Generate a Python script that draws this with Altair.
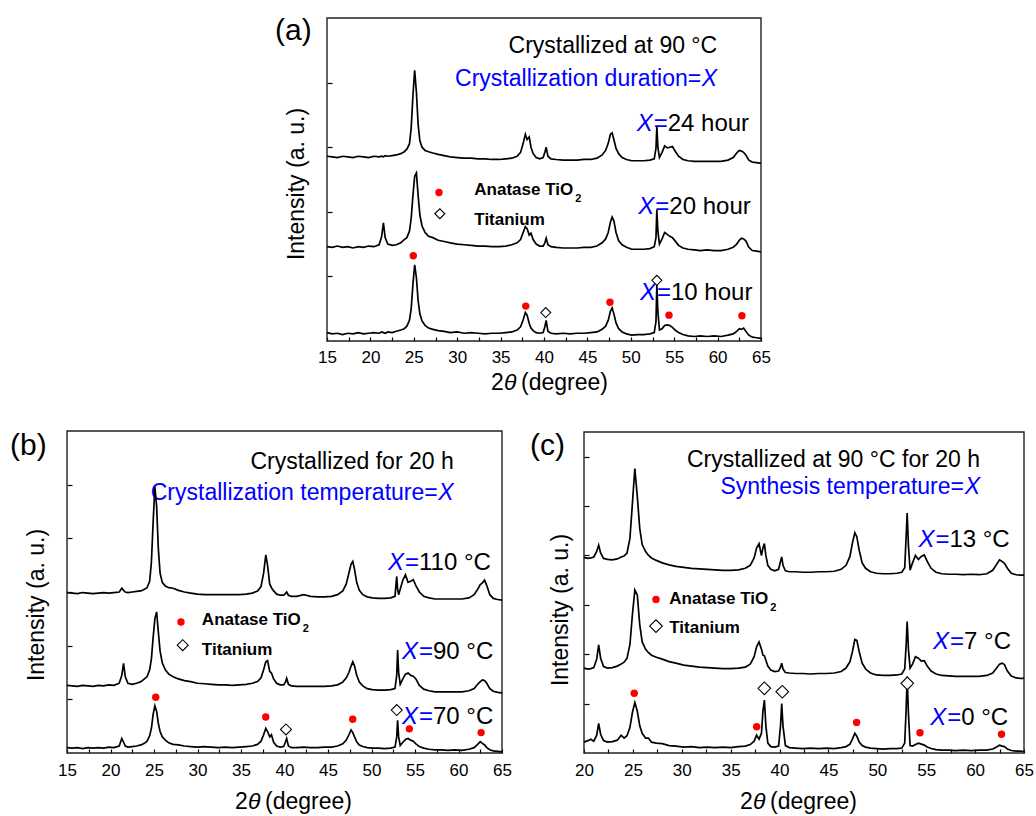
import altair as alt
import pandas as pd

FONT = "Liberation Sans"
BLUE = "#0000ff"
RED = "#ff0000"

# ---------------- shared 2-theta sampling for panels (a) and (b) ----------------
x_ab = [15.0, 15.6, 16.2, 16.8, 17.4, 18.0, 18.6, 19.2, 19.8, 20.4,
        21.0, 21.3, 21.5, 21.7, 22.0, 22.5, 23.0, 23.5, 23.9, 24.2,
        24.5, 24.7, 24.9, 25.1, 25.3, 25.5, 25.7, 25.95, 26.3, 26.7,
        27.2, 27.8, 28.5, 29.2, 30.0, 30.8, 31.6, 32.4, 33.2, 34.0,
        34.8, 35.6, 36.3, 36.9, 37.3, 37.6, 37.85, 38.05, 38.3, 38.5,
        38.75, 39.1, 39.5, 39.9, 40.1, 40.25, 40.45, 40.8, 41.4, 42.2,
        43.0, 43.8, 44.6, 45.4, 46.1, 46.7, 47.1, 47.4, 47.65, 47.85,
        48.05, 48.3, 48.6, 49.0, 49.5, 50.1, 50.8, 51.5, 52.2, 52.7,
        52.9, 53.0, 53.12, 53.3, 53.6, 53.9, 54.2, 54.5, 54.8, 55.1,
        55.5, 56.0, 56.6, 57.3, 58.0, 58.8, 59.6, 60.4, 61.2, 61.8,
        62.2, 62.5, 62.75, 63.0, 63.25, 63.6, 64.0, 64.5, 65.0]

# panel (a): crystallization duration
a_10h = [0.13, 0.11, 0.12, 0.10, 0.12, 0.11, 0.13, 0.11, 0.12, 0.13,
         0.12, 0.14, 0.13, 0.12, 0.14, 0.13, 0.15, 0.17, 0.19, 0.23,
         0.32, 0.50, 0.88, 1.18, 0.98, 0.62, 0.42, 0.31, 0.24, 0.20,
         0.18, 0.16, 0.15, 0.13, 0.14, 0.12, 0.13, 0.12, 0.11, 0.12,
         0.12, 0.13, 0.14, 0.17, 0.22, 0.33, 0.44, 0.40, 0.27, 0.20,
         0.16, 0.13, 0.12, 0.13, 0.22, 0.32, 0.15, 0.12, 0.11, 0.12,
         0.11, 0.12, 0.12, 0.13, 0.14, 0.18, 0.23, 0.32, 0.46, 0.51,
         0.42, 0.28, 0.19, 0.14, 0.11, 0.09, 0.10, 0.10, 0.11, 0.13,
         0.30, 0.87, 0.45, 0.17, 0.19, 0.24, 0.25, 0.24, 0.21, 0.17,
         0.13, 0.10, 0.08, 0.07, 0.08, 0.07, 0.08, 0.07, 0.09, 0.11,
         0.15, 0.19, 0.18, 0.20, 0.15, 0.09, 0.06, 0.05, 0.04]
a_20h = [1.46, 1.45, 1.47, 1.45, 1.46, 1.44, 1.46, 1.45, 1.47, 1.46,
         1.49, 1.62, 1.83, 1.60, 1.50, 1.48, 1.49, 1.52, 1.57, 1.60,
         1.70, 1.90, 2.25, 2.55, 2.60, 2.25, 1.95, 1.78, 1.68, 1.62,
         1.60, 1.56, 1.54, 1.52, 1.50, 1.49, 1.48, 1.47, 1.47, 1.46,
         1.46, 1.47, 1.49, 1.52, 1.57, 1.68, 1.77, 1.74, 1.64, 1.67,
         1.57, 1.50, 1.47, 1.47, 1.52, 1.59, 1.49, 1.46, 1.45, 1.44,
         1.44, 1.44, 1.45, 1.45, 1.47, 1.52, 1.58, 1.68, 1.84, 1.92,
         1.86, 1.68, 1.55, 1.49, 1.45, 1.42, 1.42, 1.42, 1.43, 1.46,
         1.60, 2.03, 1.70, 1.50, 1.58, 1.68, 1.65, 1.62, 1.60, 1.55,
         1.48, 1.44, 1.42, 1.41, 1.40, 1.41, 1.40, 1.40, 1.42, 1.45,
         1.50, 1.56, 1.59, 1.58, 1.55, 1.45, 1.40, 1.39, 1.38]
a_24h = [2.86, 2.85, 2.84, 2.86, 2.85, 2.84, 2.86, 2.85, 2.84, 2.86,
         2.85, 2.86, 2.85, 2.87, 2.86, 2.87, 2.88, 2.90, 2.93, 2.97,
         3.05, 3.30, 3.80, 4.19, 3.85, 3.35, 3.10, 3.00, 2.95, 2.93,
         2.91, 2.89, 2.87, 2.85, 2.84, 2.83, 2.83, 2.82, 2.82, 2.81,
         2.81, 2.82, 2.83, 2.86, 2.92, 3.06, 3.20, 3.12, 3.16, 3.00,
         2.90, 2.84, 2.82, 2.84, 2.92, 3.00, 2.86, 2.82, 2.81, 2.80,
         2.80, 2.80, 2.81, 2.81, 2.83, 2.88, 2.95, 3.06, 3.20, 3.22,
         3.12, 2.98, 2.90, 2.84, 2.81, 2.79, 2.79, 2.79, 2.80, 2.82,
         2.98, 3.32, 3.00, 2.84, 2.92, 3.02, 2.99, 3.00, 3.01, 2.94,
         2.86, 2.81, 2.79, 2.78, 2.78, 2.78, 2.78, 2.78, 2.80, 2.84,
         2.91, 2.95, 2.94, 2.92, 2.88, 2.80, 2.77, 2.76, 2.75]

# panel (b): crystallization temperature
b_70 = [0.10, 0.09, 0.10, 0.08, 0.10, 0.09, 0.10, 0.09, 0.11, 0.10,
        0.13, 0.27, 0.20, 0.13, 0.11, 0.12, 0.13, 0.15, 0.18, 0.22,
        0.32, 0.46, 0.72, 0.88, 0.78, 0.55, 0.40, 0.30, 0.24, 0.19,
        0.16, 0.15, 0.13, 0.12, 0.11, 0.12, 0.11, 0.10, 0.11, 0.10,
        0.11, 0.12, 0.13, 0.16, 0.22, 0.34, 0.46, 0.40, 0.30, 0.34,
        0.20, 0.13, 0.11, 0.12, 0.20, 0.27, 0.13, 0.10, 0.10, 0.11,
        0.10, 0.10, 0.11, 0.11, 0.13, 0.17, 0.24, 0.34, 0.43, 0.38,
        0.30, 0.21, 0.15, 0.12, 0.10, 0.09, 0.09, 0.08, 0.09, 0.11,
        0.30, 0.61, 0.30, 0.14, 0.20, 0.25, 0.27, 0.24, 0.22, 0.17,
        0.12, 0.09, 0.07, 0.06, 0.06, 0.05, 0.06, 0.05, 0.07, 0.10,
        0.16, 0.21, 0.18, 0.15, 0.10, 0.06, 0.04, 0.03, 0.02]
b_90 = [1.26, 1.25, 1.24, 1.26, 1.25, 1.24, 1.26, 1.25, 1.27, 1.26,
        1.30, 1.45, 1.67, 1.42, 1.30, 1.28, 1.30, 1.33, 1.38, 1.42,
        1.55, 1.75, 2.15, 2.50, 2.63, 2.25, 1.90, 1.68, 1.55, 1.47,
        1.42, 1.38, 1.35, 1.33, 1.30, 1.29, 1.28, 1.27, 1.27, 1.26,
        1.27, 1.28, 1.30, 1.33, 1.40, 1.55, 1.70, 1.72, 1.52, 1.49,
        1.38, 1.30, 1.27, 1.27, 1.32, 1.39, 1.28, 1.25, 1.24, 1.24,
        1.24, 1.24, 1.24, 1.25, 1.27, 1.32, 1.40, 1.50, 1.62, 1.70,
        1.62, 1.45, 1.32, 1.25, 1.20, 1.18, 1.17, 1.17, 1.18, 1.20,
        1.45, 1.92, 1.50, 1.28, 1.38, 1.47, 1.49, 1.45, 1.43, 1.38,
        1.26, 1.19, 1.16, 1.14, 1.14, 1.14, 1.14, 1.14, 1.16, 1.20,
        1.28, 1.33, 1.36, 1.35, 1.30, 1.20, 1.15, 1.13, 1.12]
b_110 = [2.99, 2.98, 2.97, 2.99, 2.98, 2.97, 2.98, 2.99, 2.98, 2.99,
         3.00, 3.07, 3.03, 3.00, 2.99, 3.00, 3.01, 3.02, 3.05, 3.08,
         3.20, 3.55, 4.30, 4.96, 4.60, 3.80, 3.35, 3.18, 3.11, 3.08,
         3.07, 3.03, 3.00, 2.98, 2.96, 2.95, 2.95, 2.95, 2.95, 2.95,
         2.95, 2.96, 2.98, 3.02, 3.10, 3.35, 3.69, 3.50, 3.15, 3.08,
         3.02, 2.96, 2.94, 2.94, 2.97, 3.00, 2.94, 2.92, 2.92, 2.95,
         2.92, 2.91, 2.91, 2.92, 2.95, 3.02, 3.15, 3.35, 3.52, 3.57,
         3.42, 3.18, 3.03, 2.95, 2.91, 2.89, 2.88, 2.88, 2.89, 2.92,
         3.29, 3.05, 2.95, 3.05, 3.22, 3.32, 3.18, 3.20, 3.23, 3.12,
         3.00, 2.92, 2.89, 2.87, 2.87, 2.87, 2.87, 2.87, 2.89, 2.95,
         3.05, 3.14, 3.17, 3.22, 3.12, 2.95, 2.88, 2.86, 2.85]

# ---------------- panel (c): synthesis temperature ----------------
x_c = [20.0, 20.4, 20.7, 21.0, 21.3, 21.5, 21.7, 22.0, 22.4, 22.9,
       23.4, 23.8, 24.1, 24.4, 24.7, 24.95, 25.2, 25.45, 25.7, 25.95,
       26.3, 26.6, 26.9, 27.4, 28.0, 28.7, 29.4, 30.2, 31.0, 31.8,
       32.6, 33.4, 34.2, 35.0, 35.8, 36.5, 37.0, 37.4, 37.65, 37.9,
       38.15, 38.3, 38.45, 38.6, 38.8, 39.1, 39.5, 39.9, 40.1, 40.22,
       40.35, 40.6, 41.0, 41.6, 42.4, 43.2, 44.0, 44.8, 45.6, 46.3,
       46.8, 47.2, 47.45, 47.7, 47.9, 48.15, 48.45, 48.8, 49.3, 49.9,
       50.6, 51.3, 52.0, 52.5, 52.8, 52.95, 53.05, 53.18, 53.35, 53.6,
       53.9, 54.2, 54.5, 54.8, 55.1, 55.5, 56.0, 56.6, 57.3, 58.0,
       58.8, 59.6, 60.4, 61.2, 61.8, 62.2, 62.5, 62.75, 63.0, 63.3,
       63.7, 64.2, 64.6, 65.0]
c_0 = [0.22, 0.25, 0.28, 0.24, 0.36, 0.60, 0.38, 0.25, 0.22, 0.23,
       0.26, 0.36, 0.30, 0.35, 0.52, 0.82, 1.02, 0.85, 0.55, 0.40,
       0.30, 0.30, 0.22, 0.20, 0.19, 0.15, 0.14, 0.12, 0.13, 0.11,
       0.12, 0.11, 0.12, 0.11, 0.13, 0.14, 0.17, 0.24, 0.36, 0.28,
       0.40, 0.85, 1.07, 0.55, 0.20, 0.13, 0.12, 0.14, 0.55, 1.00,
       0.55, 0.15, 0.11, 0.10, 0.09, 0.10, 0.09, 0.10, 0.09, 0.11,
       0.13, 0.18, 0.28, 0.40, 0.34, 0.22, 0.15, 0.12, 0.10, 0.09,
       0.08, 0.09, 0.09, 0.10, 0.20, 0.90, 1.55, 0.80, 0.15, 0.14,
       0.17, 0.20, 0.18, 0.16, 0.12, 0.09, 0.07, 0.06, 0.06, 0.05,
       0.06, 0.05, 0.06, 0.06, 0.08, 0.12, 0.16, 0.14, 0.13, 0.08,
       0.05, 0.04, 0.04, 0.03]
c_7 = [1.72, 1.70, 1.71, 1.73, 1.90, 2.19, 1.92, 1.75, 1.72, 1.73,
       1.76, 1.80, 1.84, 1.92, 2.20, 2.80, 3.30, 3.20, 2.60, 2.25,
       2.10, 2.03, 1.98, 1.94, 1.90, 1.85, 1.82, 1.78, 1.76, 1.74,
       1.73, 1.72, 1.71, 1.71, 1.72, 1.74, 1.80, 1.95, 2.15, 2.25,
       2.10, 1.98, 1.97, 1.88, 1.76, 1.68, 1.65, 1.66, 1.74, 1.82,
       1.70, 1.63, 1.62, 1.61, 1.61, 1.60, 1.61, 1.61, 1.62, 1.65,
       1.72, 1.85, 2.05, 2.30, 2.28, 2.05, 1.82, 1.70, 1.62, 1.58,
       1.57, 1.57, 1.58, 1.60, 1.70, 2.20, 2.66, 2.10, 1.72, 1.80,
       1.95, 1.92, 1.86, 1.87, 1.76, 1.66, 1.60, 1.57, 1.56, 1.55,
       1.55, 1.55, 1.55, 1.57, 1.62, 1.72, 1.80, 1.82, 1.79, 1.66,
       1.56, 1.52, 1.51, 1.51]
c_13 = [3.96, 3.94, 3.95, 3.97, 4.08, 4.21, 4.05, 3.94, 3.92, 3.91,
        3.93, 3.97, 3.99, 4.05, 4.35, 5.05, 5.76, 5.20, 4.55, 4.22,
        4.08, 4.00, 3.95, 3.90, 3.85, 3.81, 3.78, 3.76, 3.74, 3.73,
        3.72, 3.71, 3.70, 3.70, 3.71, 3.74, 3.80, 3.95, 4.15, 4.24,
        4.00, 4.15, 4.24, 4.00, 3.80, 3.72, 3.69, 3.72, 3.88, 3.97,
        3.80, 3.69, 3.67, 3.67, 3.66, 3.66, 3.67, 3.67, 3.68, 3.72,
        3.80, 3.98, 4.25, 4.46, 4.38, 4.10, 3.85, 3.74, 3.67, 3.64,
        3.63, 3.63, 3.64, 3.66, 3.75, 4.40, 4.86, 4.20, 3.70, 3.85,
        4.00, 3.92, 3.98, 4.01, 3.88, 3.74, 3.66, 3.63, 3.62, 3.62,
        3.61, 3.62, 3.61, 3.63, 3.70, 3.82, 3.91, 3.88, 3.84, 3.74,
        3.64, 3.61, 3.60, 3.60]

# ---------------- phase markers ----------------
a_anatase_x = [24.94, 37.9, 47.6, 54.4, 62.8]
a_anatase_y = [1.32, 0.54, 0.60, 0.40, 0.39]
a_ti_x = [40.2, 53.0]
a_ti_y = [0.44, 0.94]
b_anatase_x = [25.2, 37.84, 47.84, 54.35, 62.6]
b_anatase_y = [1.04, 0.67, 0.63, 0.45, 0.38]
b_ti_x = [40.17, 52.9]
b_ti_y = [0.44, 0.80]
c_anatase_x = [25.14, 37.66, 47.88, 54.36, 62.7]
c_anatase_y = [1.21, 0.53, 0.62, 0.41, 0.38]
c_ti_x = [38.44, 40.28, 53.06]
c_ti_y = [1.31, 1.24, 1.41]

# ---------------- texts ----------------
ticks_ab = [15, 17.5, 20, 22.5, 25, 27.5, 30, 32.5, 35, 37.5, 40, 42.5,
            45, 47.5, 50, 52.5, 55, 57.5, 60, 62.5, 65]
ticks_c = [20, 22.5, 25, 27.5, 30, 32.5, 35, 37.5, 40, 42.5,
           45, 47.5, 50, 52.5, 55, 57.5, 60, 62.5, 65]
legend_texts = ["Anatase TiO", "2", "Titanium"]
ytitle = "Intensity (a. u.)"
xtitle_parts = ["2", "\u03b8", "(degree)"]

a_title = ["Crystallized at 90 \u00b0C", "Crystallization duration="]
a_labels = ["24 hour", "20 hour", "10 hour"]
b_title = ["Crystallized for 20 h", "Crystallization temperature="]
b_labels = ["110 \u00b0C", "90 \u00b0C", "70 \u00b0C"]
c_title = ["Crystallized at 90 \u00b0C for 20 h", "Synthesis temperature="]
c_labels = ["13 \u00b0C", "7 \u00b0C", "0 \u00b0C"]

VIEW_W, VIEW_H = 1036, 816


def make_panel(p):
    (px0, px1), (py0, py1) = p["xpix"], p["ypix"]
    xs = alt.Scale(domain=p["xdom"], range=[px0, px1], nice=False, zero=False)
    ys = alt.Scale(domain=p["ydom"], range=[py1, py0], nice=False, zero=False)
    xaxis = alt.Axis(orient="bottom", offset=py1 - 4 - VIEW_H, values=p["xticks"],
                     labelExpr="datum.value % 5 === 0 ? datum.label : ''",
                     tickSize=4, domain=False, grid=False,
                     labelFlush=False, labelOverlap=False,
                     labelPadding=p["lpad"], labelFontSize=17, labelFont=FONT,
                     labelColor="black", tickColor="black", tickWidth=1.2, title=None)
    yaxis = alt.Axis(orient="left", offset=-(px0 + 5), values=p["yticks"], labels=False,
                     tickSize=5, domain=False, grid=False, tickColor="black",
                     tickWidth=1.2, title=None)

    def X():
        return alt.X("x:Q", scale=xs, axis=xaxis)

    def Y():
        return alt.Y("y:Q", scale=ys, axis=yaxis)

    def dtext(xv, yv, txt, size, color="black", align="left", dx=0, dy=0,
              style="normal", weight="normal"):
        d = pd.DataFrame({"x": [xv], "y": [yv], "t": [txt]})
        return alt.Chart(d).mark_text(
            font=FONT, fontSize=size, color=color, align=align, baseline="middle",
            dx=dx, dy=dy, fontStyle=style, fontWeight=weight
        ).encode(x=X(), y=Y(), text="t:N")

    def ptext(px, py, txt, size, style="normal", angle=0, align="left"):
        d = pd.DataFrame({"t": [txt]})
        return alt.Chart(d).mark_text(
            font=FONT, fontSize=size, color="black", align=align, baseline="middle",
            fontStyle=style, angle=angle
        ).encode(x=alt.value(px), y=alt.value(py), text="t:N")

    def pts(xl, yl, shape, size, fill, stroke, sw):
        d = pd.DataFrame({"x": xl, "y": yl})
        return alt.Chart(d).mark_point(
            shape=shape, size=size, filled=True, fill=fill, stroke=stroke,
            strokeWidth=sw, opacity=1
        ).encode(x=X(), y=Y())

    rows = []
    for name, yl in p["series"]:
        for xv, yv in zip(p["x"], yl):
            rows.append({"x": xv, "y": yv, "s": name})
    df = pd.DataFrame(rows)

    layers = []
    # frame of the plot area (domain corners through the scales)
    fr = pd.DataFrame({"x": [p["xdom"][0]], "x2": [p["xdom"][1]],
                       "y": [p["ydom"][0]], "y2": [p["ydom"][1]]})
    layers.append(alt.Chart(fr).mark_rect(fill="transparent", stroke="#222222",
                                          strokeWidth=1.4).encode(
        x=X(), x2="x2:Q", y=Y(), y2="y2:Q"))

    # annotation texts
    t1, t2 = p["title"]
    layers.append(dtext(p["title_x"], p["title_y"][0], t1, 23, align="right"))
    layers.append(dtext(p["title_x"], p["title_y"][1], "X", 23, color=BLUE,
                        align="right", style="italic"))
    layers.append(dtext(p["title_x"], p["title_y"][1], t2, 23, color=BLUE,
                        align="right", dx=-16))
    for (lx, ly), lab in zip(p["label_pos"], p["labels"]):
        layers.append(dtext(lx, ly, "X", 24, color=BLUE, style="italic"))
        layers.append(dtext(lx, ly, "=", 24, color=BLUE, dx=17))
        layers.append(dtext(lx, ly, lab, 24, dx=31))
    # legend
    lgx, lgy1, lgy2 = p["leg_text"]
    layers.append(dtext(lgx, lgy1, legend_texts[0], 17, weight="bold"))
    layers.append(dtext(lgx, lgy1, legend_texts[1], 11, weight="bold", dx=101, dy=9))
    layers.append(dtext(lgx, lgy2, legend_texts[2], 17, weight="bold"))

    # traces
    layers.append(alt.Chart(df).mark_line(color="black", strokeWidth=1.7).encode(
        x=X(), y=Y(), detail="s:N"))

    # markers
    layers.append(pts(p["an_x"], p["an_y"], "circle", 55, RED, RED, 0))
    layers.append(pts(p["ti_x"], p["ti_y"], "diamond", p["dsize"], "white", "black", 1.1))
    layers.append(pts([p["leg_c"][0]], [p["leg_c"][1]], "circle", 55, RED, RED, 0))
    layers.append(pts([p["leg_d"][0]], [p["leg_d"][1]], "diamond", p["dsize"], "white", "black", 1.1))

    # panel letter, axis titles (absolute page pixels)
    lx, ly = p["letter_pos"]
    layers.append(ptext(lx, ly, p["letter"], 30))
    yx, yy = p["ytitle_pos"]
    layers.append(ptext(yx, yy, ytitle, 23, angle=270, align="center"))
    tx, ty = p["xtitle_pos"]
    layers.append(ptext(tx, ty, xtitle_parts[0], 23))
    layers.append(ptext(tx + 13, ty, xtitle_parts[1], 23, style="italic"))
    layers.append(ptext(tx + 30, ty, xtitle_parts[2], 23))

    return alt.layer(*layers)


A = make_panel(dict(
    xpix=(327, 761), ypix=(18, 341), xdom=[15, 65], ydom=[0, 5], x=x_ab,
    series=[("10 h", a_10h), ("20 h", a_20h), ("24 h", a_24h)],
    xticks=ticks_ab, yticks=[1, 2, 3, 4], lpad=8,
    title=a_title, title_x=59.95, title_y=[4.56, 4.06],
    labels=a_labels, label_pos=[(50.68, 3.36), (50.87, 2.08), (51.06, 0.74)],
    leg_text=(31.97, 2.33, 1.87), leg_c=(27.9, 2.30), leg_d=(28.0, 1.97),
    an_x=a_anatase_x, an_y=a_anatase_y, ti_x=a_ti_x, ti_y=a_ti_y, dsize=100,
    letter="(a)", letter_pos=(275, 31), ytitle_pos=(297, 184), xtitle_pos=(491, 383),
))

B = make_panel(dict(
    xpix=(67, 502), ypix=(431, 753), xdom=[15, 65], ydom=[0, 6], x=x_ab,
    series=[("70", b_70), ("90", b_90), ("110", b_110)],
    xticks=ticks_ab, yticks=[1, 2, 3, 4, 5], lpad=9,
    title=b_title, title_x=59.45, title_y=[5.43, 4.85],
    labels=b_labels, label_pos=[(51.9, 3.54), (53.5, 1.89), (53.5, 0.68)],
    leg_text=(30.5, 2.47, 1.92), leg_c=(28.1, 2.44), leg_d=(28.3, 2.01),
    an_x=b_anatase_x, an_y=b_anatase_y, ti_x=b_ti_x, ti_y=b_ti_y, dsize=120,
    letter="(b)", letter_pos=(10, 446), ytitle_pos=(37, 605), xtitle_pos=(235, 802),
))

C = make_panel(dict(
    xpix=(584, 1024), ypix=(432, 753), xdom=[20, 65], ydom=[0, 6.5], x=x_c,
    series=[("0", c_0), ("7", c_7), ("13", c_13)],
    xticks=ticks_c, yticks=[1, 2, 3, 4, 5, 6], lpad=9,
    title=c_title, title_x=60.5, title_y=[5.93, 5.39],
    labels=c_labels, label_pos=[(54.2, 4.31), (55.7, 2.25), (55.4, 0.70)],
    leg_text=(28.72, 3.11, 2.54), leg_c=(27.36, 3.11), leg_d=(27.36, 2.57),
    an_x=c_anatase_x, an_y=c_anatase_y, ti_x=c_ti_x, ti_y=c_ti_y, dsize=160,
    letter="(c)", letter_pos=(530, 446), ytitle_pos=(561, 610), xtitle_pos=(740, 802),
))

chart = alt.layer(A, B, C).resolve_scale(
    x="independent", y="independent"
).resolve_axis(
    x="independent", y="independent"
).properties(
    width=VIEW_W, height=VIEW_H, padding=0,
    autosize=alt.AutoSizeParams(type="none"),
).configure_view(strokeWidth=0).configure_axis(
    labelFontSize=17, labelFont=FONT, labelColor="black"
)

chart.save("out.html", embed_options={"renderer": "svg", "actions": False})
